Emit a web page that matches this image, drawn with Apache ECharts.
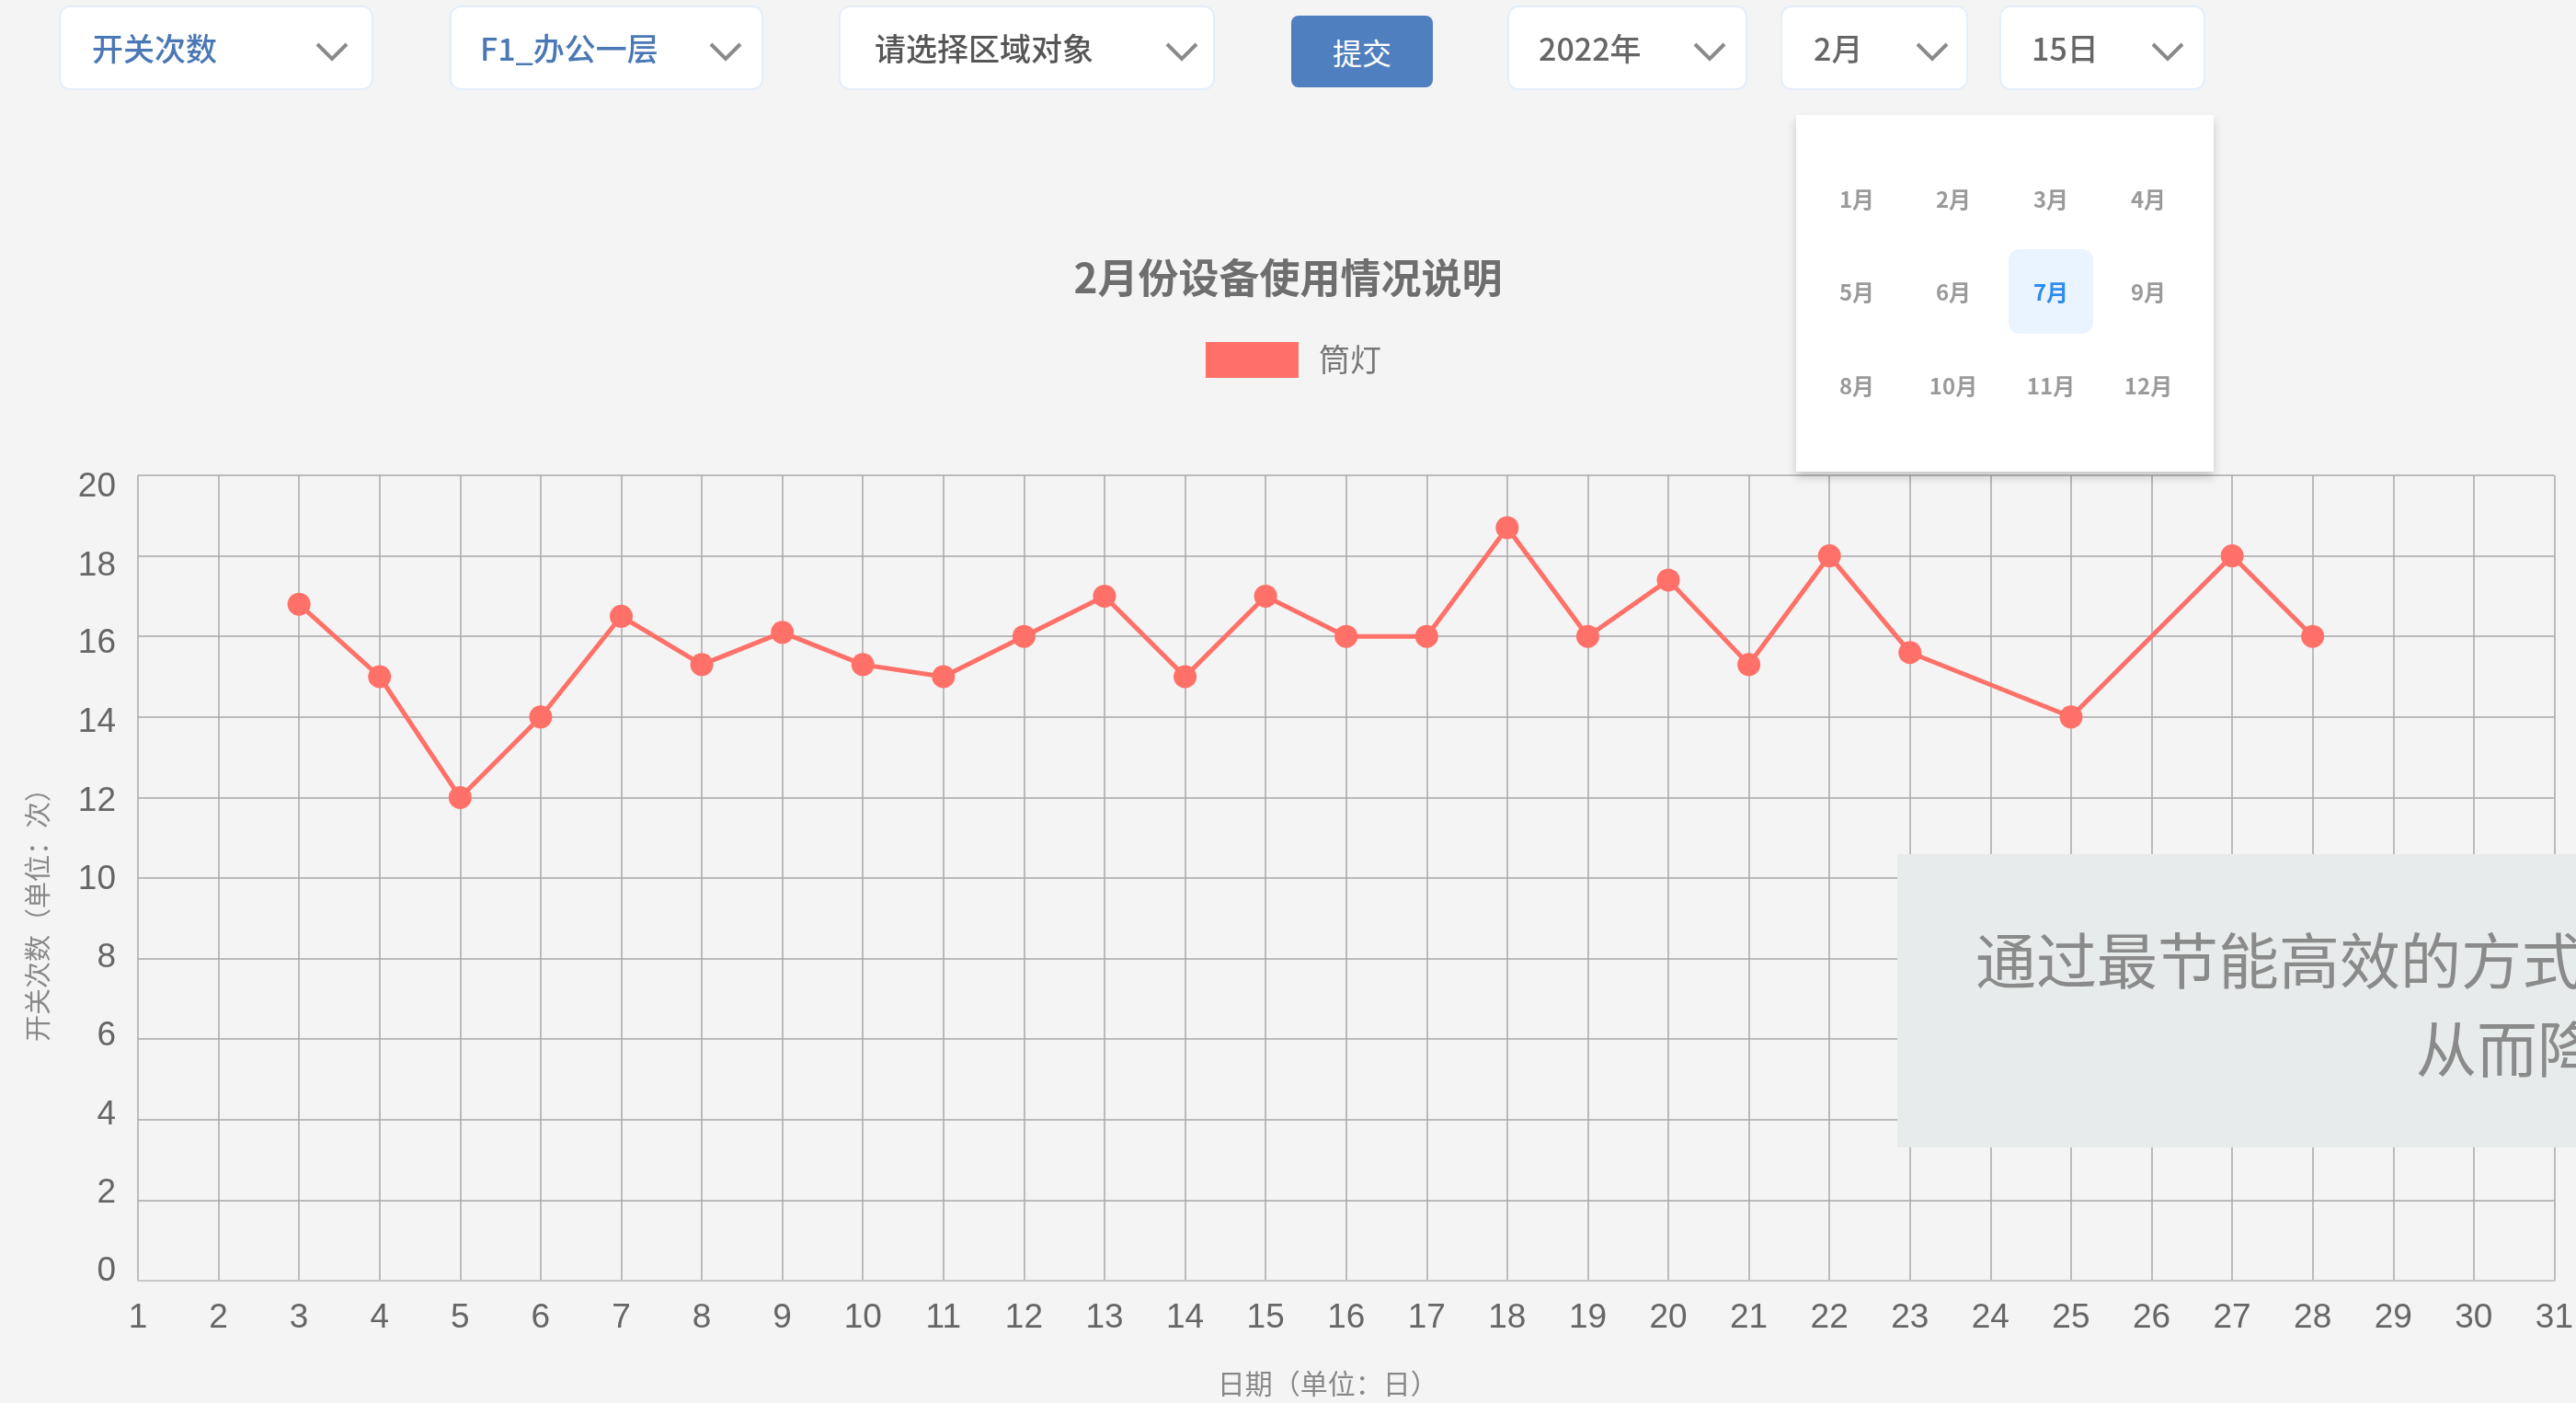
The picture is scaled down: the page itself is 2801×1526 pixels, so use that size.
<!DOCTYPE html>
<html>
<head>
<meta charset="utf-8">
<script src="https://cdn.jsdelivr.net/npm/echarts@6/dist/echarts.min.js"></script>
<style>
  html, body { margin: 0; padding: 0; width: 2801px; height: 1526px; overflow: hidden; background: #f4f4f4; font-family: "Noto Sans CJK SC", "Liberation Sans", sans-serif; }
  #chart { position: absolute; left: 0; top: 0; width: 2801px; height: 1526px; }
  .sel { position: absolute; top: 6px; height: 92px; background: #fff; border: 2px solid #e4eefa; border-radius: 12px; box-sizing: border-box; }
  .sel .t { position: absolute; top: 0; line-height: 88px; font-size: 34px; white-space: nowrap; font-weight: 500; }
  .sel svg { position: absolute; top: 37px; }
  .btn { position: absolute; left: 1404px; top: 17px; width: 154px; height: 78px; background: #4f7fbe; border-radius: 8px; color: #fff; font-size: 32px; line-height: 78px; text-align: center; }
  .pop { position: absolute; left: 1953px; top: 125px; width: 454px; height: 388px; background: #fff; box-shadow: 0 6px 10px rgba(0,0,0,0.18); }
  .m { position: absolute; width: 92px; height: 92px; line-height: 92px; text-align: center; font-size: 24px; color: #9a9a9a; font-weight: bold; margin-left: -46px; margin-top: -46px; }
  .m.on { background: #eaf4fe; color: #2d8cf0; border-radius: 12px; }
  .panel { position: absolute; left: 2063px; top: 929px; width: 760px; height: 319px; background: #e8ebeb; overflow: hidden; }
  .panel .l { position: absolute; font-size: 66px; color: #8a8a8a; white-space: nowrap; line-height: 70px; }
</style>
</head>
<body>
<div id="chart"></div>

<div class="sel" style="left:64px;width:342px;"><span class="t" style="left:34px;color:#4a78b5;">开关次数</span>
  <svg style="left:276px" width="38" height="22"><polyline points="3,3 19,19 35,3" fill="none" stroke="#8a8a8a" stroke-width="4"/></svg></div>
<div class="sel" style="left:489px;width:341px;"><span class="t" style="left:31px;color:#4a78b5;">F1_办公一层</span>
  <svg style="left:279px" width="38" height="22"><polyline points="3,3 19,19 35,3" fill="none" stroke="#8a8a8a" stroke-width="4"/></svg></div>
<div class="sel" style="left:912px;width:409px;"><span class="t" style="left:37px;color:#555;">请选择区域对象</span>
  <svg style="left:352px" width="38" height="22"><polyline points="3,3 19,19 35,3" fill="none" stroke="#8a8a8a" stroke-width="4"/></svg></div>
<div class="btn">提交</div>
<div class="sel" style="left:1639px;width:261px;"><span class="t" style="left:32px;color:#666;">2022年</span>
  <svg style="left:199px" width="38" height="22"><polyline points="3,3 19,19 35,3" fill="none" stroke="#8a8a8a" stroke-width="4"/></svg></div>
<div class="sel" style="left:1936px;width:204px;"><span class="t" style="left:34px;color:#666;">2月</span>
  <svg style="left:144px" width="38" height="22"><polyline points="3,3 19,19 35,3" fill="none" stroke="#8a8a8a" stroke-width="4"/></svg></div>
<div class="sel" style="left:2174px;width:224px;"><span class="t" style="left:33px;color:#666;">15日</span>
  <svg style="left:162px" width="38" height="22"><polyline points="3,3 19,19 35,3" fill="none" stroke="#8a8a8a" stroke-width="4"/></svg></div>

<div class="pop" id="pop"></div>

<div class="panel">
  <div class="l" style="left:85px;top:77px;">通过最节能高效的方式</div>
  <div class="l" style="left:564px;top:173px;">从而降</div>
</div>

<script>
// ---- data ----
const days = [3, 4, 5, 6, 7, 8, 9, 10, 11, 12, 13, 14, 15, 16, 17, 18, 19, 20, 21, 22, 23, 25, 27, 28];
const counts = [16.8, 15, 12, 14, 16.5, 15.3, 16.1, 15.3, 15, 16, 17, 15, 17, 16, 16, 18.7, 16, 17.4, 15.3, 18, 15.6, 14, 18, 16];
const yTicks = [0, 2, 4, 6, 8, 10, 12, 14, 16, 18, 20];
const seriesName = '筒灯';
const chartTitle = '2月份设备使用情况说明';
const xName = '日期（单位：日）';
const yName = '开关次数（单位：次）';
const monthLabels = ['1月', '2月', '3月', '4月', '5月', '6月', '7月', '9月', '8月', '10月', '11月', '12月'];
const activeMonth = '7月';

// month popup
const pop = document.getElementById('pop');
const colX = [66, 171, 277, 383];
const rowY = [91, 192, 294];
monthLabels.forEach((m, i) => {
  const d = document.createElement('div');
  d.className = 'm' + (m === activeMonth ? ' on' : '');
  d.style.left = colX[i % 4] + 'px';
  d.style.top = rowY[Math.floor(i / 4)] + 'px';
  d.textContent = m;
  pop.appendChild(d);
});

const FONT = '"Liberation Sans", "Noto Sans CJK SC", sans-serif';
// y labels in the reference sit slightly compressed toward the middle
const yRich = {};
yTicks.forEach(v => {
  const s = Math.round(-10 + 23 * v / 20);
  yRich['v' + v] = { fontSize: 37, color: '#666', fontFamily: FONT, padding: [s > 0 ? 2 * s : 0, 0, s < 0 ? -2 * s : 0, 0] };
});

const chart = echarts.init(document.getElementById('chart'), null, { renderer: 'canvas' });
chart.setOption({
  backgroundColor: 'transparent',
  animation: false,
  title: {
    text: chartTitle,
    left: 'center',
    top: 275,
    textStyle: { fontSize: 44, fontWeight: 'bold', color: '#6e6e6e', fontFamily: '"Noto Sans CJK SC", sans-serif' }
  },
  legend: {
    data: [seriesName],
    left: 1306,
    top: 367,
    icon: 'rect',
    itemWidth: 101,
    itemHeight: 39,
    textStyle: { fontSize: 34, color: '#777', padding: [0, 0, 0, 17], fontFamily: '"Noto Sans CJK SC", sans-serif' }
  },
  grid: { left: 150, right: 16, top: 517, bottom: 133, containLabel: false },
  xAxis: {
    type: 'value',
    min: 1,
    max: 31,
    interval: 1,
    name: xName,
    nameLocation: 'middle',
    nameGap: 97,
    nameTextStyle: { fontSize: 30, color: '#888', padding: [0, 40, 0, 0], fontFamily: '"Noto Sans CJK SC", sans-serif' },
    axisLine: { show: true, lineStyle: { color: '#c8c8c8', width: 2 } },
    axisTick: { show: false },
    axisLabel: { fontSize: 37, color: '#666', margin: 22, fontFamily: FONT },
    splitLine: { show: true, lineStyle: { color: '#a8a8a8', width: 1.5 } }
  },
  yAxis: {
    type: 'value',
    min: 0,
    max: 20,
    interval: 2,
    name: yName,
    nameLocation: 'middle',
    nameRotate: 90,
    nameGap: 95,
    nameTextStyle: { fontSize: 29, color: '#888', padding: [0, 66, 0, 0], fontFamily: '"Noto Sans CJK SC", sans-serif' },
    axisLine: { show: false },
    axisTick: { show: false },
    axisLabel: { margin: 24, formatter: v => '{v' + v + '|' + v + '}', rich: yRich },
    splitLine: { show: true, lineStyle: { color: '#a8a8a8', width: 1.5 } }
  },
  series: [{
    name: seriesName,
    type: 'line',
    data: days.map((d, i) => [d, counts[i]]),
    color: '#ff7168',
    symbol: 'circle',
    symbolSize: 25,
    lineStyle: { width: 5, color: '#ff7168' },
    itemStyle: { color: '#ff7168' }
  }]
});
</script>
</body>
</html>
